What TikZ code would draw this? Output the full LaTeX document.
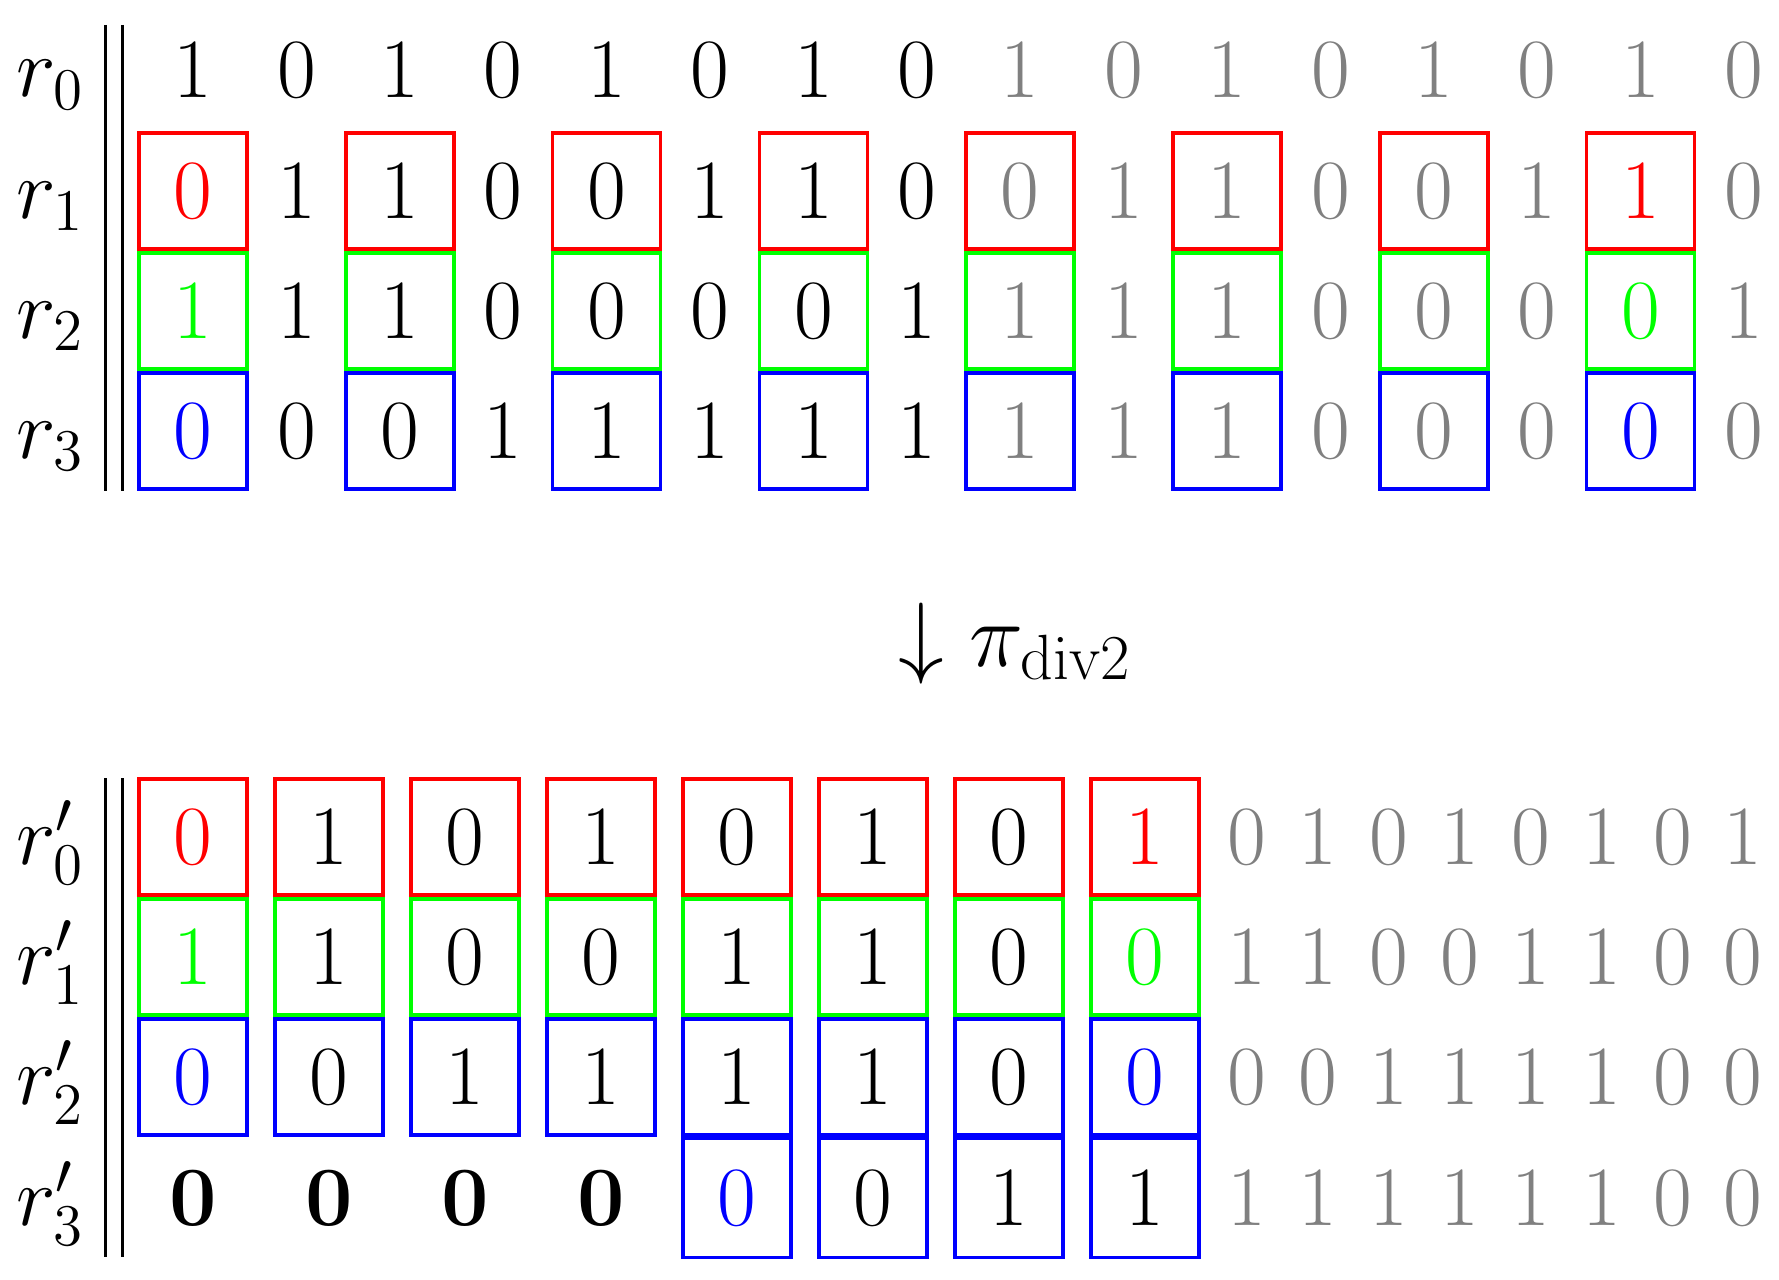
\RequirePackage{fix-cm}
\documentclass[tikz,border=0pt]{standalone}
\usepackage{tikz}
\tikzstyle{bit}=[inner sep=0pt]
\tikzstyle{cell}=[line width=1pt,minimum width=1.08cm,minimum height=1.16cm,inner sep=0pt]
\tikzstyle{cellr}=[cell,draw=red]
\tikzstyle{cellg}=[cell,draw=green]
\tikzstyle{cellb}=[cell,draw=blue]
\tikzstyle{rowlabel}=[anchor=base,inner sep=0pt]
\tikzstyle{rule}=[line width=1.1pt]

\begin{document}
\begin{tikzpicture}[x=1cm,y=-1cm,font=\fontsize{24}{29}\selectfont]
    \useasboundingbox (0,0) rectangle (17.79,12.79);
    % upper block
    \node[rowlabel] (l0) at (0.50,0.97) {$r_0$};
    \node[rowlabel] (l1) at (0.50,2.18) {$r_1$};
    \node[rowlabel] (l2) at (0.50,3.38) {$r_2$};
    \node[rowlabel] (l3) at (0.50,4.58) {$r_3$};
    \draw[rule] (1.055,0.25) -- (1.055,4.91);
    \draw[rule] (1.225,0.25) -- (1.225,4.91);

    \foreach \b/\c [count=\i from 0] in {1/black,0/black,1/black,0/black,1/black,0/black,1/black,0/black,1/gray,0/gray,1/gray,0/gray,1/gray,0/gray,1/gray,0/gray}
        \node[bit,text=\c] (a0-\i) at ({1.93+1.034*\i},0.70) {\b};
    \foreach \b/\c [count=\i from 0] in {0/red,1/black,1/black,0/black,0/black,1/black,1/black,0/black,0/gray,1/gray,1/gray,0/gray,0/gray,1/gray,1/red,0/gray}
        \node[bit,text=\c] (a1-\i) at ({1.93+1.034*\i},1.91) {\b};
    \foreach \b/\c [count=\i from 0] in {1/green,1/black,1/black,0/black,0/black,0/black,0/black,1/black,1/gray,1/gray,1/gray,0/gray,0/gray,0/gray,0/green,1/gray}
        \node[bit,text=\c] (a2-\i) at ({1.93+1.034*\i},3.11) {\b};
    \foreach \b/\c [count=\i from 0] in {0/blue,0/black,0/black,1/black,1/black,1/black,1/black,1/black,1/gray,1/gray,1/gray,0/gray,0/gray,0/gray,0/blue,0/gray}
        \node[bit,text=\c] (a3-\i) at ({1.93+1.034*\i},4.31) {\b};

    \foreach \i in {0,2,...,14} {
        \node[cellr] (p1-\i) at (a1-\i) {};
        \node[cellg] (p2-\i) at (a2-\i) {};
        \node[cellb] (p3-\i) at (a3-\i) {};
    }

    % the map
    \node[bit,anchor=base,font=\fontsize{26}{31}\selectfont] (map) at (10.15,6.66) {$\downarrow\pi_{\mathrm{div2}}$};

    % lower block
    \node[rowlabel] (m0) at (0.50,8.64) {$r'_0$};
    \node[rowlabel] (m1) at (0.50,9.84) {$r'_1$};
    \node[rowlabel] (m2) at (0.50,11.04) {$r'_2$};
    \node[rowlabel] (m3) at (0.50,12.25) {$r'_3$};
    \draw[rule] (1.055,7.78) -- (1.055,12.57);
    \draw[rule] (1.225,7.78) -- (1.225,12.57);

    \foreach \b/\c [count=\i from 0] in {0/red,1/black,0/black,1/black,0/black,1/black,0/black,1/red}
        \node[bit,text=\c] (b0-\i) at ({1.93+1.36*\i},8.37) {\b};
    \foreach \b/\c [count=\i from 0] in {1/green,1/black,0/black,0/black,1/black,1/black,0/black,0/green}
        \node[bit,text=\c] (b1-\i) at ({1.93+1.36*\i},9.57) {\b};
    \foreach \b/\c [count=\i from 0] in {0/blue,0/black,1/black,1/black,1/black,1/black,0/black,0/blue}
        \node[bit,text=\c] (b2-\i) at ({1.93+1.36*\i},10.77) {\b};
    \foreach \i in {0,...,3}
        \node[bit] (b3-\i) at ({1.93+1.36*\i},11.98) {\textbf{0}};
    \foreach \b/\c [count=\i from 4] in {0/blue,0/black,1/black,1/black}
        \node[bit,text=\c] (b3-\i) at ({1.93+1.36*\i},11.98) {\b};

    \foreach \i in {0,...,7} {
        \node[cellr] (q0-\i) at (b0-\i) {};
        \node[cellg] (q1-\i) at (b1-\i) {};
        \node[cellb] (q2-\i) at (b2-\i) {};
    }
    \foreach \i in {4,...,7}
        \node[cellb,minimum height=1.19cm] (q3-\i) at (b3-\i) {};

    % leftover bits
    \foreach \b [count=\j from 0] in {0,1,0,1,0,1,0,1}
        \node[bit,text=gray] (c0-\j) at ({12.47+0.709*\j},8.37) {\b};
    \foreach \b [count=\j from 0] in {1,1,0,0,1,1,0,0}
        \node[bit,text=gray] (c1-\j) at ({12.47+0.709*\j},9.57) {\b};
    \foreach \b [count=\j from 0] in {0,0,1,1,1,1,0,0}
        \node[bit,text=gray] (c2-\j) at ({12.47+0.709*\j},10.77) {\b};
    \foreach \b [count=\j from 0] in {1,1,1,1,1,1,0,0}
        \node[bit,text=gray] (c3-\j) at ({12.47+0.709*\j},11.98) {\b};
\end{tikzpicture}
\end{document}
